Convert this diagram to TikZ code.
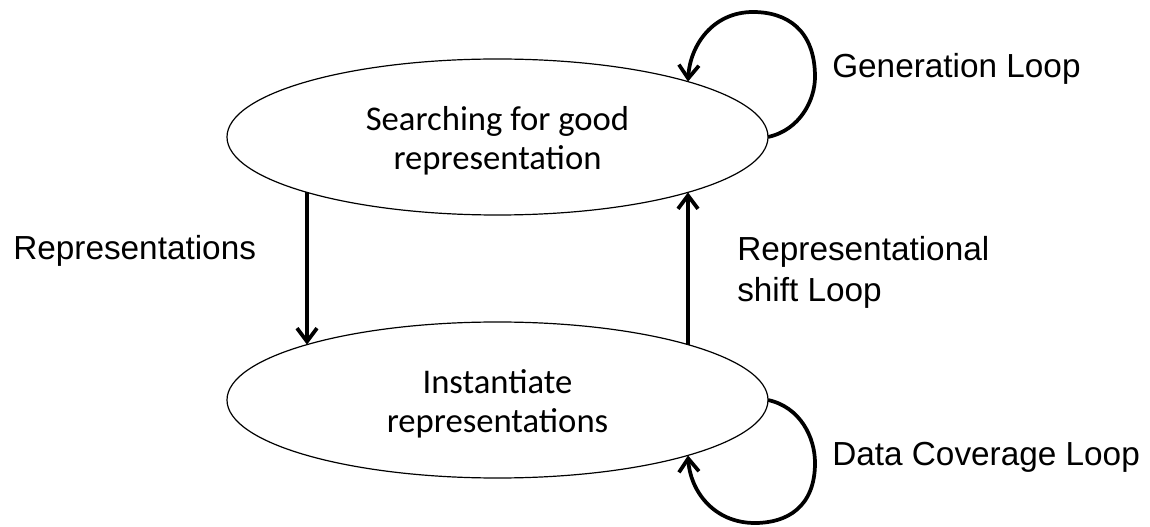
\documentclass[tikz,border=0pt]{standalone}
\usepackage{fontspec}
\setmainfont{Liberation Sans}
\newfontfamily\calibrifont{Carlito}
\usepackage{tikz}
\usetikzlibrary{shapes.geometric,arrows.meta,calc}

\tikzset{
  state/.style={ellipse,draw,line width=0.9pt,minimum width=405.75pt,minimum height=117pt,inner sep=0pt,outer sep=0pt,align=center,text height=50pt,text depth=1.5pt,font=\calibrifont\fontsize{26}{29}\selectfont},
  loopline/.style={line width=2.8pt,-{Straight Barb[length=10pt,width=15pt]}},
  tag/.style={inner sep=0pt,font=\fontsize{25}{30.75}\selectfont}
}

\begin{document}
\begin{tikzpicture}[x=0.75pt,y=0.75pt,yscale=-1,xscale=1]
        \useasboundingbox (0,0) rectangle (1150,527);

        %Shape: Ellipse [id:search]
        \node [state] (search) at (497.5,137) {Searching for good\\representation};
        %Shape: Ellipse [id:inst]
        \node [state] (inst) at (497.5,400) {Instantiate\\representations};

        %Straight Lines [id:down]
        \draw [loopline] ($(search.center)+(-190.5,55.4)$) -- ($(inst.center)+(-190.5,-55.4)$);
        %Straight Lines [id:up]
        \draw [loopline] ($(inst.center)+(190.5,-55.4)$) -- ($(search.center)+(190.5,55.4)$);

        %Curve Lines [id:generation]
        \draw [loopline] (search.east) .. controls (800,130) and (815,100) .. (815,77) .. controls (815,30) and (787,12) .. (753,12) .. controls (713,12) and (690,45) .. ($(search.center)+(190.5,-55.4)$) ;
        %Curve Lines [id:coverage]
        \draw [loopline] (inst.east) .. controls (800,407) and (815,437) .. (815,463) .. controls (815,507) and (787,523) .. (755,523) .. controls (713,523) and (690,490) .. ($(inst.center)+(190.5,55.4)$) ;

        % Text Node
        \node [tag,anchor=base west] (repr) at (13,260) {Representations};
        % Text Node
        \node [tag,anchor=base west] (gen) at (832,78) {Generation Loop};
        % Text Node
        \node [tag,anchor=west,align=left] (shift) at (737,272) {Representational\\shift Loop};
        % Text Node
        \node [tag,anchor=base west] (cover) at (832,465) {Data Coverage Loop};

\end{tikzpicture}
\end{document}
